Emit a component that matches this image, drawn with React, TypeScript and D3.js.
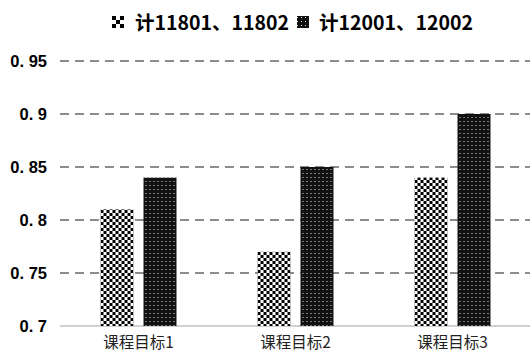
import * as d3 from 'd3';

const categories = ['课程目标1', '课程目标2', '课程目标3'];
const seriesNames = ['计11801、11802', '计12001、12002'];
const values1 = [0.81, 0.77, 0.84];
const values2 = [0.84, 0.85, 0.9];
const yTicks = [0.7, 0.75, 0.8, 0.85, 0.9, 0.95];
const yTickLabels = ['0. 7', '0. 75', '0. 8', '0. 85', '0. 9', '0. 95'];

const width = 530;
const height = 354;
const left = 60;
const right = 531;
const top = 61;
const bottom = 326;

const x0 = d3.scaleBand<string>()
  .domain(categories)
  .range([left, right])
  .paddingInner(0.516)
  .paddingOuter(0.258);

const x1 = d3.scaleBand<number>()
  .domain([0, 1])
  .range([0, x0.bandwidth()])
  .paddingInner(0.233);

const y = d3.scaleLinear().domain([0.7, 0.95]).range([bottom, top]);

const fills = ['url(#checker)', 'url(#dots)'];
const numFont = '"Liberation Sans", Arial, sans-serif';
const cjkFont = '"Noto Sans CJK SC", sans-serif';

function App() {
  const series = [values1, values2];
  return (
    <svg width={width} height={height} style={{ position: 'absolute', left: 0, top: 0 }}>
      <defs>
        <pattern id="checker" width={6} height={6} patternUnits="userSpaceOnUse">
          <rect width={6} height={6} fill="#fff" />
          <rect x={0} y={0} width={3} height={3} fill="#000" />
          <rect x={3} y={3} width={3} height={3} fill="#000" />
        </pattern>
        <pattern id="checkerBig" width={8} height={8} patternUnits="userSpaceOnUse">
          <rect width={8} height={8} fill="#fff" />
          <rect x={0} y={0} width={4} height={4} fill="#000" />
          <rect x={4} y={4} width={4} height={4} fill="#000" />
        </pattern>
        <pattern id="dots" width={4} height={4} patternUnits="userSpaceOnUse">
          <rect width={4} height={4} fill="#111" />
          <rect x={1} y={1} width={1} height={1} fill="#ddd" />
        </pattern>
      </defs>
      <rect width={width} height={height} fill="#fff" />

      {/* gridlines */}
      {yTicks.slice(1).map(t => (
        <line key={t} x1={left} x2={width} y1={y(t)} y2={y(t)}
          stroke="#8c8c8c" strokeWidth={2} strokeDasharray="9,6" />
      ))}
      <line x1={left} x2={width} y1={bottom} y2={bottom} stroke="#c0c0c0" strokeWidth={1.5} />

      {/* y labels */}
      {yTicks.map((t, i) => (
        <text key={t} x={47} y={y(t)} dy="0.36em" textAnchor="end"
          fontFamily={numFont} fontWeight="bold" fontSize={16.5} fill="#000">
          {yTickLabels[i]}
        </text>
      ))}

      {/* bars */}
      {categories.map((c, ci) => (
        <g key={c} transform={`translate(${x0(c)},0)`}>
          {series.map((vals, si) => (
            <rect key={si} x={x1(si)} width={x1.bandwidth()}
              y={y(vals[ci])} height={bottom - y(vals[ci])} fill={fills[si]} />
          ))}
        </g>
      ))}

      {/* x labels */}
      {categories.map(c => (
        <text key={c} x={(x0(c) ?? 0) + x0.bandwidth() / 2} y={348} textAnchor="middle"
          fontFamily={cjkFont} fontSize={15.5} fill="#222">
          {c}
        </text>
      ))}

      {/* legend */}
      <g>
        <rect x={112} y={16} width={12} height={12} fill="url(#checkerBig)" />
        <text x={135} y={30} fontFamily={cjkFont} fontWeight="bold" fontSize={19.5} fill="#000">
          {seriesNames[0]}
        </text>
        <rect x={297} y={16} width={12} height={12} fill={fills[1]} />
        <text x={319} y={30} fontFamily={cjkFont} fontWeight="bold" fontSize={19.5} fill="#000">
          {seriesNames[1]}
        </text>
      </g>
    </svg>
  );
}

export default App;
